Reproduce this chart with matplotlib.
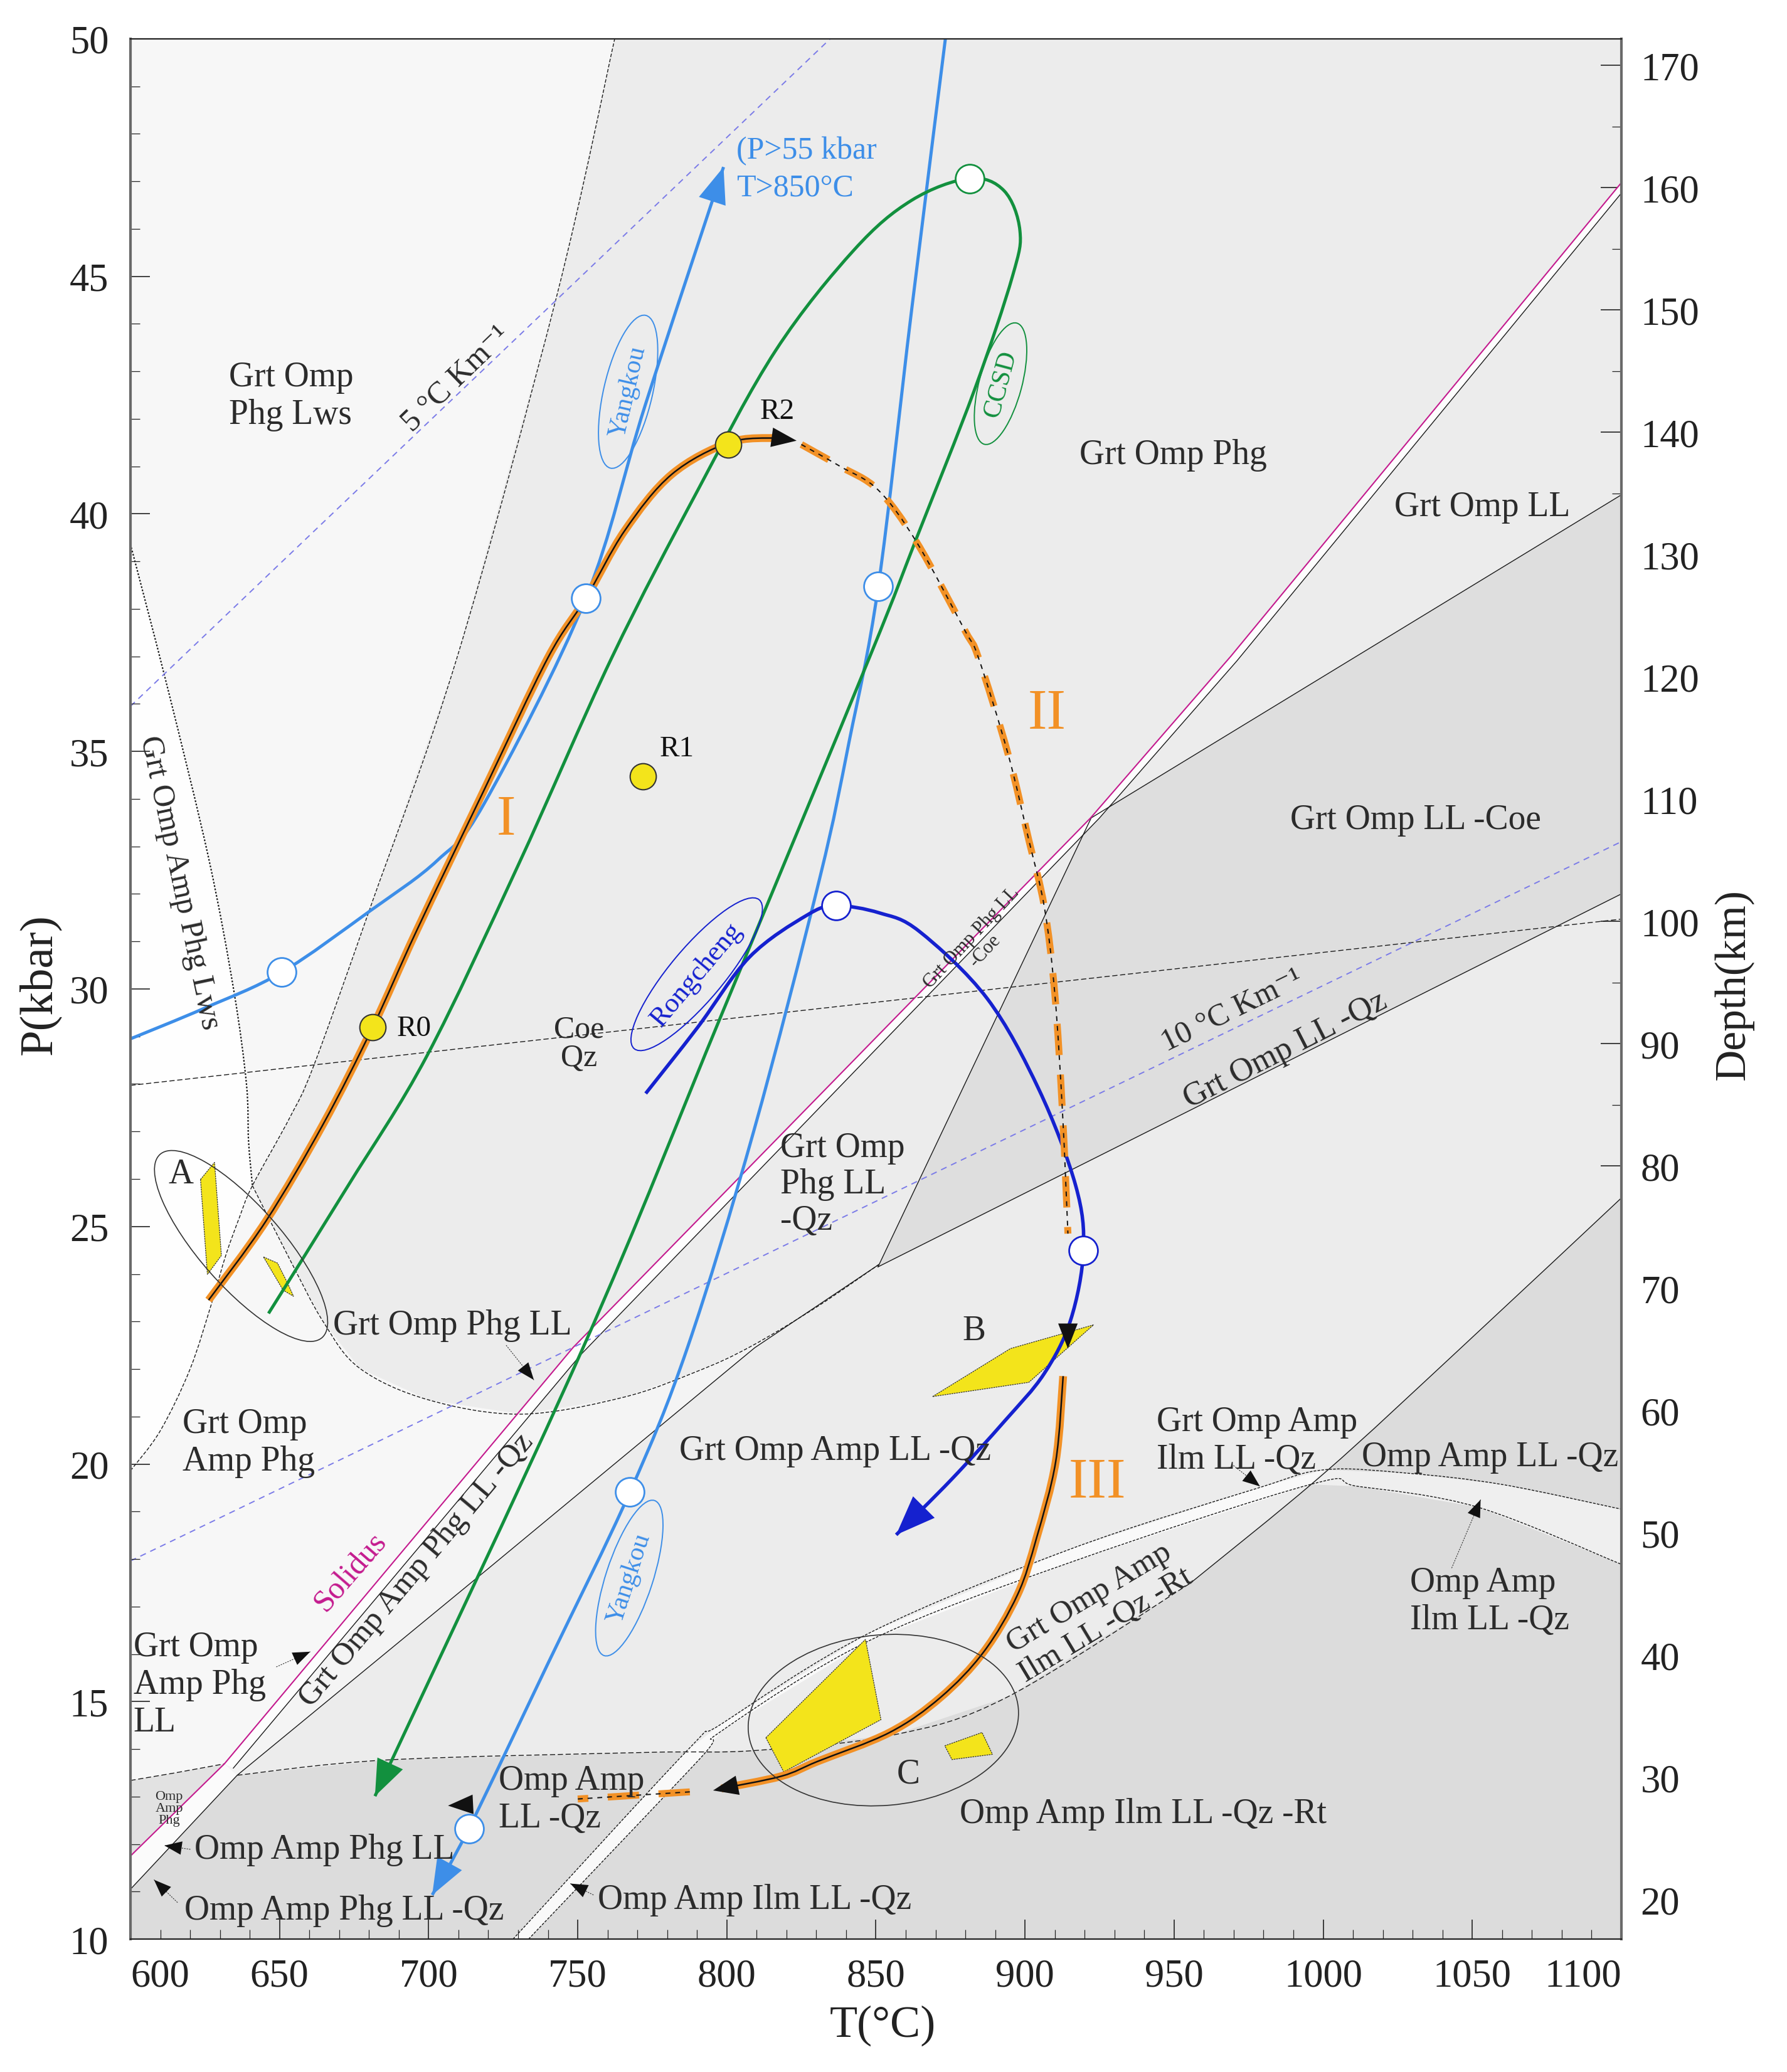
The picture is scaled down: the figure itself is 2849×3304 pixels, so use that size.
import numpy as np
import matplotlib.pyplot as plt
from matplotlib.patches import Ellipse, PathPatch
from matplotlib.path import Path
from matplotlib.transforms import ScaledTranslation

plt.rcParams['font.family'] = ['Liberation Serif', 'DejaVu Serif']

# ---------------- data (T in °C, P in kbar) ----------------
T_LIM = (600, 1100)
P_LIM = (10, 50)

# lawsonite-out boundary
lws_T = [600, 610, 620, 627.3, 632, 636.6, 640.9, 653.5, 661.5, 680.3, 709.5, 743.1, 762.4]
lws_P = [19.86, 20.7, 22.0, 23.4, 24.4, 25.2, 25.86, 27.3, 28.39, 31.69, 36.97, 44.62, 50.0]
# Grt Omp Amp Phg Lws field boundary (dotted)
lwsamp_T = [600, 612.4, 626.3, 634.7, 638.9, 639.6, 640.9]
lwsamp_P = [39.36, 36.35, 32.73, 29.95, 28.0, 26.8, 25.86]
# phengite / amphibole boundary (dashed)
phg_T = [640.9, 653.5, 664.8, 677, 700, 731, 765, 790, 807.6, 830, 851]
phg_P = [25.86, 24.3, 22.98, 22.01, 21.35, 21.05, 21.4, 21.95, 22.46, 23.3, 24.2]
# solidus and the lines beside it
sol_T = [600, 631.5, 748.4, 922, 969, 1100]
sol_P = [11.75, 13.69, 22.45, 33.6, 37.0, 46.97]
sola_T = [634.5, 751, 925, 971, 1100]
sola_P = [13.6, 22.3, 33.6, 36.9, 46.75]
lineb_T = [600, 635.8, 720, 809.4, 851]
lineb_P = [11.05, 13.45, 17.8, 22.45, 24.2]
# coesite = quartz
coe_T = [600, 1100]
coe_P = [27.97, 31.47]
# Grt Omp LL wedge
wedge_T = [850.7, 922.2, 1100, 1100]
wedge_P = [24.15, 33.6, 40.4, 32.0]
# low-pressure boundaries
hzl_T = [600, 615, 631.5]
hzl_P = [13.34, 13.5, 13.69]
hz_T = [635.8, 685.5, 772.7, 809.4, 856, 894.2, 955.4, 1000.4, 1046.3, 1100]
hz_P = [13.45, 13.77, 13.93, 13.97, 14.3, 15.1, 17.49, 19.81, 22.45, 25.6]
u_T = [728.3, 786.7, 798.2, 848, 915.2, 977.9, 1000.5, 1027.8, 1060, 1100]
u_P = [10.0, 13.97, 14.53, 16.45, 18.21, 19.49, 19.88, 19.81, 19.57, 19.05]
l_T = [733.5, 791, 798.2, 848, 915.2, 995.7, 1011.7, 1052, 1100]
l_P = [10.0, 13.8, 14.38, 16.29, 17.93, 19.57, 19.53, 19.09, 17.89]
# geotherms
g5_T = [600, 834.7]
g5_P = [35.95, 50.0]
g10_T = [600, 1100]
g10_P = [17.96, 33.1]

# P-T paths
o1_T = [626.2, 645.4, 664.6, 681.2, 696, 718.7, 740, 752.7, 765.8, 781.5, 800.7, 816.4, 823.4]
o1_P = [23.45, 25.11, 27.15, 29.19, 31.23, 34.2, 36.97, 38.22, 39.65, 40.83, 41.5, 41.6, 41.54]
o2_T = [825, 838, 850.8, 863.7, 879.8, 884.4, 894.3, 901.3, 906.5, 910, 912.6, 914.4, 914.4]
o2_P = [41.46, 41.0, 40.5, 39.4, 37.55, 36.97, 34.95, 33.13, 31.72, 29.9, 27.38, 24.85, 22.43]
o3_T = [912.8, 910.3, 903.9, 897.5, 886.2, 871.7, 854.6, 830.4, 818.3, 798.2, 795.4]
o3_P = [21.85, 20.05, 18.45, 17.25, 16.05, 15.09, 14.35, 13.74, 13.43, 13.17, 13.13]
o4_T = [787.6, 750, 706.5]
o4_P = [13.1, 12.95, 12.81]

yk1_T = [600, 625, 650.7, 680.3, 703, 718.7, 752.7, 772.7, 798.9]
yk1_P = [28.95, 29.6, 30.35, 31.64, 32.71, 33.91, 38.22, 42.3, 47.3]
yk2_T = [874.5, 862, 850.8, 841, 831.2, 809, 786.8, 767.5, 740, 713.5, 701.2]
yk2_P = [50.6, 44.3, 38.47, 35.2, 32.34, 27.0, 22.45, 19.41, 15.8, 12.33, 10.93]
cc_T = [646.3, 672.9, 699.5, 730, 761.4, 790.2, 816.4, 842.6, 862, 881.4, 893,
        898.3, 895.8, 883, 863.7, 847.8, 798.9, 751.8, 682]
cc_P = [23.17, 25.85, 28.6, 32.6, 36.97, 40.49, 43.44, 45.55, 46.6, 47.06, 46.8,
        45.96, 45.0, 42.6, 39.5, 36.97, 29.56, 22.45, 13.01]
rc_T = [772.8, 790.2, 807.6, 826.8, 836.6, 851.2, 864.6, 887.3, 904.7, 917, 919.6, 915.3,
        906.4, 893.1, 875.4, 856.8]
rc_P = [27.8, 29.19, 30.67, 31.55, 31.75, 31.6, 31.21, 29.8, 27.88, 25.86, 24.5, 23.03,
        21.9, 20.9, 19.68, 18.51]

# samples
r_T = [681.3, 771.9, 800.5]
r_P = [29.2, 34.47, 41.46]
r_names = ['R0', 'R1', 'R2']
wc_T = [650.7, 752.7, 850.8, 881.4, 836.6, 919.6, 767.5, 713.5]
wc_P = [30.35, 38.22, 38.47, 47.06, 31.75, 24.5, 19.41, 12.33]
wc_path = ['yk', 'yk', 'yk', 'cc', 'rc', 'rc', 'yk', 'yk']

# yellow fields
ya1_T = [623.5, 628.2, 630.5, 625.8]
ya1_P = [25.99, 26.35, 24.39, 23.99]
ya2_T = [644.6, 649.3, 652.6, 654.7, 651.2]
ya2_P = [24.36, 24.23, 23.82, 23.53, 23.66]
yb_T = [869, 895.1, 923, 901.3]
yb_P = [21.42, 22.43, 22.93, 21.72]
yc1_T = [813.1, 846.5, 851.7, 819.1]
yc1_P = [14.24, 16.31, 14.62, 13.52]
yc2_T = [873.1, 885.6, 889.1, 875.5]
yc2_P = [14.07, 14.35, 13.89, 13.78]

depth_ticks = list(range(20, 171, 10))

ORANGE = '#f29126'
LBLUE = '#3d8ee8'
GREEN = '#12903e'
DBLUE = '#1521cf'
MAG = '#c41a8e'
YEL = '#f3e41b'
GEO = '#7b7be8'
TXT = '#2b2b2b'


def pts(T, P):
    return list(zip(T, P))


def crossing(T1, P1, T2, P2):
    t = np.linspace(max(min(T1), min(T2)), min(max(T1), max(T2)), 4000)
    d = np.interp(t, T1, P1) - np.interp(t, T2, P2)
    i = np.where(np.diff(np.sign(d)) != 0)[0][0]
    return t[i], float(np.interp(t[i], T1, P1))


def smooth(T, P):
    # Catmull-Rom through the read points, drawn as Bezier curves by matplotlib
    p = np.column_stack([T, P]).astype(float)
    n = len(p)
    verts, codes = [p[0]], [Path.MOVETO]
    for i in range(n - 1):
        p0 = p[i - 1] if i > 0 else p[i]
        p3 = p[i + 2] if i + 2 < n else p[i + 1]
        verts += [p[i] + (p[i + 1] - p0) / 6, p[i + 1] - (p3 - p[i]) / 6, p[i + 1]]
        codes += [Path.CURVE4] * 3
    return Path(verts, codes)


fig = plt.figure(figsize=(28.49, 33.05), dpi=100)
ax = fig.add_axes([0.073, 0.0641, 0.8343, 0.9169])
ax.set_xlim(*T_LIM)
ax.set_ylim(*P_LIM)
ax.set_facecolor('#ececec')


def curve(T, P, color='#1a1a1a', lw=1.0, ls='-', z=1, cap='butt'):
    ax.add_patch(PathPatch(smooth(T, P), fill=False, edgecolor=color, lw=lw,
                           linestyle=ls, zorder=z, capstyle=cap, joinstyle='round'))


# ---------------- shaded fields ----------------
cx, cy = crossing(phg_T, phg_P, sol_T, sol_P)

dark = [(600, 10), (600, lineb_P[0])] + pts(hz_T, hz_P) + [(1100, 10)]
ax.fill(*zip(*dark), color='#dcdcdc', lw=0, zorder=0.2)

left_u = [(t, p) for t, p in zip(u_T, u_P) if t <= 1000.5]
left_l = [(t, p) for t, p in zip(l_T, l_P) if t <= 995.7]
ax.fill(*zip(*(left_u + left_l[::-1])), color='#f9f9f9', lw=0, zorder=0.3)
right_u = [(t, p) for t, p in zip(u_T, u_P) if t >= 1000.5]
right_l = [(t, p) for t, p in zip(l_T, l_P) if t >= 995.7]
ax.fill(*zip(*(right_u + right_l[::-1])), color='#efefef', lw=0, zorder=0.3)

ax.fill(wedge_T, wedge_P, color='#dedede', lw=0, zorder=0.2)

ul = [(600, 50)] + pts(lws_T[6:][::-1], lws_P[6:][::-1])
ul += [(t, p) for t, p in zip(phg_T, phg_P) if 640.9 < t < cx] + [(cx, cy)]
ul += [(t, p) for t, p in zip(sol_T, sol_P) if t < cx][::-1]
ax.fill(*zip(*ul), color='#f7f7f7', lw=0, zorder=0.3)

lw_strip = pts(lwsamp_T, lwsamp_P) + pts(lws_T[:6][::-1], lws_P[:6][::-1])
ax.fill(*zip(*lw_strip), color='#fefefe', lw=0, zorder=0.35)

qz_strip = [(t, p) for t, p in zip(sol_T, sol_P) if 631.5 <= t < cx] + [(cx, cy)]
qz_strip += [(t, p) for t, p in zip(phg_T, phg_P) if t > cx]
qz_strip += [(t, p) for t, p in zip(lineb_T, lineb_P) if t >= 635.8][::-1]
ax.fill(*zip(*qz_strip), color='#f4f4f4', lw=0, zorder=0.35)

sol_up = [(t, p) for t, p in zip(sol_T, sol_P) if t >= 631.5]
ax.fill(*zip(*(pts(sola_T, sola_P) + sol_up[::-1])), color='#fdfdfd', lw=0, zorder=0.4)
low_strip = [(600, sol_P[0]), (sol_T[1], sol_P[1]), (635.8, 13.45), (600, lineb_P[0])]
ax.fill(*zip(*low_strip), color='#fbfbfb', lw=0, zorder=0.4)
tri = [(600, sol_P[0]), (sol_T[1], sol_P[1])] + pts(hzl_T[::-1], hzl_P[::-1])
ax.fill(*zip(*tri), color='#e2e2e2', lw=0, zorder=0.4)

# ---------------- boundary lines ----------------
thin = dict(color='#1a1a1a', lw=1.0, zorder=1)
curve(lws_T, lws_P, ls=(0, (4, 2)))
curve(lwsamp_T, lwsamp_P, ls=(0, (1.2, 1.2)), lw=1.6)
curve(phg_T, phg_P, ls=(0, (4, 2)))
ax.plot(coe_T, coe_P, ls=(0, (6, 3)), **thin)
ax.plot(wedge_T[:3], wedge_P[:3], **thin)
ax.plot([wedge_T[0], wedge_T[3]], [wedge_P[0], wedge_P[3]], **thin)
ax.plot(sola_T, sola_P, **thin)
ax.plot(lineb_T, lineb_P, **thin)
ax.plot(hzl_T, hzl_P, ls=(0, (6, 3)), **thin)
curve(hz_T[:7], hz_P[:7], ls=(0, (6, 3)))
curve(hz_T[6:], hz_P[6:])
curve(u_T, u_P, ls=(0, (3, 1.5)))
curve(l_T, l_P, ls=(0, (3, 1.5)))
ax.plot(sol_T, sol_P, color=MAG, lw=1.5, zorder=1.1)
ax.plot(g5_T, g5_P, color=GEO, lw=1.4, ls=(0, (5, 4)), zorder=1.1)
ax.plot(g10_T, g10_P, color=GEO, lw=1.4, ls=(0, (5, 4)), zorder=1.1)

# yellow fields
for yT, yP in [(ya1_T, ya1_P), (ya2_T, ya2_P), (yb_T, yb_P), (yc1_T, yc1_P), (yc2_T, yc2_P)]:
    ax.fill(yT, yP, facecolor=YEL, edgecolor='#333333', lw=0.9, ls=(0, (2, 1)), zorder=1.5)


def head(x0, y0, x1, y1, color, ms=40, hl=0.9, hw=0.35):
    ax.annotate('', xy=(x1, y1), xytext=(x0, y0), zorder=4,
                arrowprops=dict(arrowstyle=f'-|>,head_length={hl},head_width={hw}',
                                color=color, lw=0, shrinkA=0, shrinkB=0,
                                mutation_scale=ms))


# ---------------- P-T paths ----------------
curve(yk1_T, yk1_P, color=LBLUE, lw=3.6, z=2)
head(yk1_T[-2], yk1_P[-2], yk1_T[-1], yk1_P[-1], LBLUE, ms=46)
curve(yk2_T, yk2_P, color=LBLUE, lw=3.6, z=2)
head(yk2_T[-2], yk2_P[-2], yk2_T[-1], yk2_P[-1], LBLUE, ms=46)
curve(cc_T, cc_P, color=GREEN, lw=3.6, z=2)
head(cc_T[-2], cc_P[-2], cc_T[-1], cc_P[-1], GREEN, ms=46)
curve(rc_T, rc_P, color=DBLUE, lw=4.0, z=2.1)
head(rc_T[-2], rc_P[-2], rc_T[-1], rc_P[-1], DBLUE, ms=50)

for T, P in [(o1_T, o1_P), (o3_T, o3_P)]:
    curve(T[:-1], P[:-1], color=ORANGE, lw=9, z=2.5)
    curve(T[:-1], P[:-1], color='#111111', lw=1.8, z=2.6)
for T, P in [(o2_T, o2_P), (o4_T, o4_P)]:
    curve(T[:-1], P[:-1], color=ORANGE, lw=8, ls=(0, (4.5, 2.8)), z=2.5)
    curve(T[:-1], P[:-1], color='#111111', lw=1.4, ls=(0, (4, 4)), z=2.6)
head(o1_T[-2], o1_P[-2], o1_T[-1], o1_P[-1], '#111111', ms=32)
head(o2_T[-2], o2_P[-2], o2_T[-1], o2_P[-1], '#111111', ms=32)
head(o3_T[-3], o3_P[-3], o3_T[-1], o3_P[-1], '#111111', ms=32)
head(o4_T[-2], o4_P[-2], o4_T[-1], o4_P[-1], '#111111', ms=32)

# sample points and peak markers
ax.plot(r_T, r_P, 'o', ms=30, mfc=YEL, mec='#333333', mew=1.5, zorder=3)
edge = {'yk': LBLUE, 'cc': GREEN, 'rc': DBLUE}
for t, p, k in zip(wc_T, wc_P, wc_path):
    ax.plot(t, p, 'o', ms=33, mfc='white', mec=edge[k], mew=2, zorder=3.2)


# ---------------- labels ----------------
def lab(t, p, s, size=40, rot=0, color=TXT, ha='center', ls=1.2, z=5):
    ax.text(t, p, s, fontsize=size, rotation=rot, color=color, ha=ha, va='center',
            linespacing=ls, rotation_mode='anchor', zorder=z)


def oval(t, p, w, h, ang, color, s, rot, size=30):
    e = Ellipse((0, 0), w, h, angle=ang, fill=False, ec=color, lw=1.4,
                transform=fig.dpi_scale_trans + ScaledTranslation(t, p, ax.transData),
                zorder=4)
    ax.add_patch(e)
    lab(t, p, s, size=size, rot=rot, color=color)


def pointer(t0, p0, t1, p1, ms=22):
    ax.plot([t0, t1], [p0, p1], color='#333333', lw=0.8, ls=(0, (2, 1.5)), zorder=4)
    head(t0, p0, t1, p1, '#111111', ms=ms)


lab(633, 42.49, 'Grt Omp\nPhg Lws', ha='left')
lab(709.3, 42.85, '5 °C Km⁻¹', size=36, rot=44)
oval(766.9, 42.57, 2.5, 0.78, 77, LBLUE, 'Yangkou', 77)
lab(803.2, 47.26, '(P>55 kbar\nT>850°C', size=36, color=LBLUE, ha='left', ls=1.35)
lab(817, 42.16, 'R2', size=34, color='#111111')
oval(891.8, 42.74, 2.0, 0.68, 75, GREEN, 'CCSD', 75)
lab(949.6, 41.24, 'Grt Omp Phg')
lab(1053.4, 40.15, 'Grt Omp LL')
lab(616.5, 32.25, 'Grt Omp Amp Phg Lws', size=36, rot=-78)
lab(783.2, 35.06, 'R1', size=34, color='#111111')
lab(726, 33.56, 'I', size=66, color=ORANGE)
lab(907.3, 35.79, 'II', size=66, color=ORANGE)
lab(1031, 33.56, 'Grt Omp LL -Coe')
oval(789.9, 30.31, 3.1, 0.85, 50, DBLUE, 'Rongcheng', 50, size=32)
lab(695.2, 29.17, 'R0', size=34, color='#111111')
lab(750.4, 28.85, 'Coe\nQz', size=36, ls=0.95)
lab(884.3, 30.95, 'Grt Omp Phg LL\n-Coe', size=22, rot=47, ls=1.0)
lab(969.5, 29.55, '10 °C Km⁻¹', size=36, rot=26)
lab(987.2, 28.72, 'Grt Omp LL -Qz', size=38, rot=27)
lab(818, 25.9, 'Grt Omp\nPhg LL\n-Qz', ha='left', ls=1.15)
lab(617, 26.1, 'A', size=40)
lab(708, 22.93, 'Grt Omp Phg LL')
lab(883, 22.8, 'B', size=40)
lab(617.5, 20.45, 'Grt Omp\nAmp Phg', ha='left')
lab(836.4, 20.29, 'Grt Omp Amp LL -Qz')
lab(944.1, 20.5, 'Grt Omp Amp\nIlm LL -Qz', ha='left')
lab(1055.9, 20.15, 'Omp Amp LL -Qz')
lab(924.3, 19.6, 'III', size=66, color=ORANGE)
lab(673.8, 17.73, 'Solidus', size=36, rot=49, color=MAG)
lab(696, 17.77, 'Grt Omp Amp Phg LL -Qz', size=37, rot=50)
oval(767.3, 17.6, 2.6, 0.75, 72, LBLUE, 'Yangkou', 72)
lab(1029.2, 17.12, 'Omp Amp\nIlm LL -Qz', ha='left')
lab(924.3, 16.9, 'Grt Omp Amp\nIlm LL -Qz -Rt', size=37, rot=31, ls=1.1)
lab(601, 15.36, 'Grt Omp\nAmp Phg\nLL', ha='left')
lab(613, 12.75, 'Omp\nAmp\nPhg', size=16, ls=1.0)
lab(723.5, 12.95, 'Omp Amp\nLL -Qz', ha='left')
lab(860.8, 13.48, 'C', size=40)
lab(939.7, 12.64, 'Omp Amp Ilm LL -Qz -Rt')
lab(665, 11.89, 'Omp Amp Phg LL')
lab(671.6, 10.61, 'Omp Amp Phg LL -Qz')
lab(809.4, 10.83, 'Omp Amp Ilm LL -Qz')

# leader arrows
pointer(726, 22.5, 735.3, 21.77)
pointer(648.9, 15.73, 660.3, 16.05)
pointer(620.1, 11.89, 611.4, 11.97)
pointer(615.8, 10.77, 607.9, 11.25)
pointer(755.3, 10.93, 747.5, 11.17)
pointer(969.9, 19.97, 978.8, 19.53)
pointer(1043.1, 17.81, 1052.8, 19.25)

# circled groups
for t, p, w, h, ang in [(637.1, 24.59, 3.9, 1.3, -48.5), (852.5, 14.61, 4.32, 2.72, 5)]:
    e = Ellipse((0, 0), w, h, angle=ang, fill=False, ec='#333333', lw=1.2,
                transform=fig.dpi_scale_trans + ScaledTranslation(t, p, ax.transData),
                zorder=4)
    ax.add_patch(e)

# ---------------- axes ----------------
ax.set_xticks(np.arange(600, 1101, 50))
ax.set_xticks(np.arange(600, 1101, 10), minor=True)
ax.set_yticks(np.arange(10, 51, 5))
ax.set_yticks(np.arange(10, 51, 1), minor=True)
ax.tick_params(which='both', direction='in', top=False, right=False, colors='#222222',
               labelsize=45)
ax.tick_params(axis='x', which='major', length=22, width=1.2, pad=22)
ax.tick_params(axis='y', which='major', length=22, width=1.2, pad=25)
ax.tick_params(which='minor', length=11, width=0.9)
xl = ax.get_xticklabels()
xl[0].set_ha('left')
xl[-1].set_ha('right')
for s in ['left', 'right']:
    ax.spines[s].set_linewidth(3)
    ax.spines[s].set_color('#6a6a6a')
for s in ['top', 'bottom']:
    ax.spines[s].set_linewidth(1.6)
    ax.spines[s].set_color('#222222')

sec = ax.secondary_yaxis('right', functions=(lambda p: 3.885 * p - 22.07,
                                             lambda d: (d + 22.07) / 3.885))
sec.set_yticks(depth_ticks)
sec.set_yticks(np.arange(15, 175, 5), minor=True)
sec.tick_params(which='both', direction='in', labelsize=45, colors='#222222')
sec.tick_params(which='major', length=24, width=1.2, pad=22)
sec.tick_params(which='minor', length=11, width=0.9)
sec.spines['right'].set_visible(False)

fig.text(1407 / 2849, 1 - 3230 / 3305, 'T(°C)', fontsize=52, ha='center', va='center', color='#222222')
fig.text(63 / 2849, 1 - 1570 / 3305, 'P(kbar)', fontsize=54, rotation=90, ha='center', va='center', color='#222222')
fig.text(2764 / 2849, 1 - 1570 / 3305, 'Depth(km)', fontsize=50, rotation=90, ha='center', va='center', color='#222222')

fig.savefig('out.png', dpi=100, facecolor='white')
